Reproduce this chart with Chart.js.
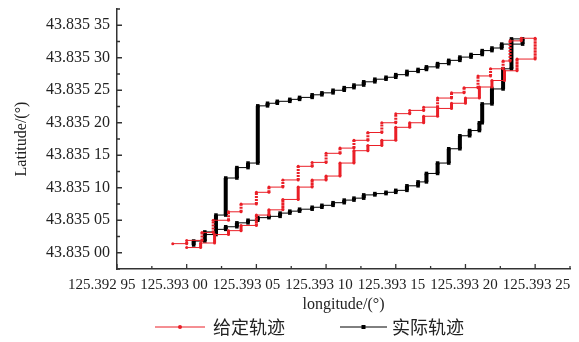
<!DOCTYPE html>
<html>
<head>
<meta charset="utf-8">
<script src="https://cdn.jsdelivr.net/npm/chart.js@4.4.1/dist/chart.umd.min.js"></script>
<style>html,body{margin:0;padding:0;background:#fff}</style>
</head>
<body>
<canvas id="c" width="579" height="342"></canvas>
<script>
// given trajectory (red): up the upper staircase, round the top-right box, back down the lower one
const givenLon = [
  125.39299, 125.393, 125.393, 125.393011, 125.393011, 125.393019, 125.393019, 125.39303, 125.39303, 125.393039,
  125.393039, 125.39305, 125.39305, 125.393059, 125.393059, 125.393069, 125.393069, 125.39308, 125.39308, 125.39309,
  125.39309, 125.3931, 125.3931, 125.39311, 125.39311, 125.39312, 125.39312, 125.39313, 125.39313, 125.39314,
  125.39314, 125.39315, 125.39315, 125.39316, 125.39316, 125.39317, 125.39317, 125.39318, 125.39318, 125.39319,
  125.39319, 125.393199, 125.393199, 125.393209, 125.393209, 125.393218, 125.393218, 125.393227, 125.393227, 125.393232,
  125.393232, 125.39324, 125.39324, 125.39325, 125.39325,
  125.393237, 125.393237, 125.393228, 125.393228, 125.393219, 125.393219, 125.39321, 125.39321, 125.3932, 125.3932,
  125.39319, 125.39319, 125.39318, 125.39318, 125.39317, 125.39317, 125.39316, 125.39316, 125.39315, 125.39315,
  125.39314, 125.39314, 125.39313, 125.39313, 125.39312, 125.39312, 125.39311, 125.39311, 125.3931, 125.3931,
  125.39309, 125.39309, 125.39308, 125.39308, 125.393069, 125.393069, 125.393059, 125.393059, 125.39305, 125.39305,
  125.393039, 125.393039, 125.39303, 125.39303, 125.39302, 125.39302, 125.39301, 125.39301, 125.393
];
const givenLat = [
  43.835014, 43.835014, 43.835019, 43.835019, 43.835031, 43.835031, 43.83505, 43.83505, 43.835063, 43.835063,
  43.835075, 43.835075, 43.835093, 43.835093, 43.835101, 43.835101, 43.835112, 43.835112, 43.835133, 43.835133,
  43.835139, 43.835139, 43.835153, 43.835153, 43.835161, 43.835161, 43.835173, 43.835173, 43.835185, 43.835185,
  43.8352, 43.8352, 43.835214, 43.835214, 43.835219, 43.835219, 43.835224, 43.835224, 43.835238, 43.835238,
  43.835246, 43.835246, 43.835254, 43.835254, 43.835272, 43.835272, 43.835283, 43.835283, 43.835295, 43.835295,
  43.835326, 43.835326, 43.83533, 43.83533, 43.835298,
  43.835298, 43.83528, 43.83528, 43.835265, 43.835265, 43.835255, 43.835255, 43.835238, 43.835238, 43.83523,
  43.83523, 43.835222, 43.835222, 43.83521, 43.83521, 43.8352, 43.8352, 43.835193, 43.835193, 43.835173,
  43.835173, 43.835165, 43.835165, 43.835157, 43.835157, 43.835138, 43.835138, 43.835118, 43.835118, 43.835112,
  43.835112, 43.835101, 43.835101, 43.835082, 43.835082, 43.835066, 43.835066, 43.835058, 43.835058, 43.835042,
  43.835042, 43.835034, 43.835034, 43.835028, 43.835028, 43.835015, 43.835015, 43.835008, 43.835008
];

// actual trajectory (black): lower path out, steep climb on the right, upper path back, drop at the left
const actualLon = [
  125.393005, 125.393005, 125.393013, 125.393013, 125.393021, 125.393021, 125.393028, 125.393028, 125.393036, 125.393036,
  125.393044, 125.393044, 125.393051, 125.393051, 125.393059, 125.393059, 125.393067, 125.393067, 125.393074, 125.393074,
  125.393081, 125.393081, 125.39309, 125.39309, 125.393097, 125.393097, 125.393105, 125.393105, 125.393113, 125.393113,
  125.39312, 125.39312, 125.393127, 125.393127, 125.393135, 125.393135, 125.393143, 125.393143, 125.39315, 125.39315,
  125.393158, 125.393158, 125.393166, 125.393166, 125.393172, 125.393172, 125.39318, 125.39318, 125.393188, 125.393188,
  125.393196, 125.393196, 125.393203, 125.393203, 125.39321, 125.39321, 125.393212, 125.393212, 125.393219, 125.393219,
  125.393227, 125.393227, 125.393233, 125.393233, 125.393241, 125.393241, 125.393226, 125.393226, 125.393219, 125.393219,
  125.393212, 125.393212, 125.393204, 125.393204, 125.393196, 125.393196, 125.393188, 125.393188, 125.39318, 125.39318,
  125.393172, 125.393172, 125.393166, 125.393166, 125.393158, 125.393158, 125.39315, 125.39315, 125.393143, 125.393143,
  125.393135, 125.393135, 125.393127, 125.393127, 125.39312, 125.39312, 125.393113, 125.393113, 125.393105, 125.393105,
  125.393097, 125.393097, 125.39309, 125.39309, 125.393081, 125.393081, 125.393074, 125.393074, 125.393065, 125.393065,
  125.393058, 125.393058, 125.393051, 125.393051, 125.393044, 125.393044, 125.393036, 125.393036, 125.393028, 125.393028,
  125.393021, 125.393021, 125.393013
];
const actualLat = [
  43.835012, 43.835018, 43.835018, 43.835032, 43.835032, 43.835036, 43.835036, 43.83504, 43.83504, 43.835046,
  43.835046, 43.83505, 43.83505, 43.835054, 43.835054, 43.835056, 43.835056, 43.835061, 43.835061, 43.835064,
  43.835064, 43.835067, 43.835067, 43.83507, 43.83507, 43.835073, 43.835073, 43.835077, 43.835077, 43.835081,
  43.835081, 43.835084, 43.835084, 43.835089, 43.835089, 43.835091, 43.835091, 43.835093, 43.835093, 43.835096,
  43.835096, 43.835103, 43.835103, 43.835109, 43.835109, 43.835122, 43.835122, 43.835138, 43.835138, 43.83516,
  43.83516, 43.83518, 43.83518, 43.835188, 43.835188, 43.8352, 43.8352, 43.835229, 43.835229, 43.835252,
  43.835252, 43.835283, 43.835283, 43.835329, 43.835329, 43.835321, 43.835321, 43.835315, 43.835315, 43.835311,
  43.835311, 43.835305, 43.835305, 43.835301, 43.835301, 43.835296, 43.835296, 43.835291, 43.835291, 43.835286,
  43.835286, 43.835282, 43.835282, 43.835279, 43.835279, 43.835274, 43.835274, 43.83527, 43.83527, 43.835267,
  43.835267, 43.835263, 43.835263, 43.835258, 43.835258, 43.835254, 43.835254, 43.83525, 43.83525, 43.835246,
  43.835246, 43.835243, 43.835243, 43.835239, 43.835239, 43.835236, 43.835236, 43.835233, 43.835233, 43.83523,
  43.83523, 43.835226, 43.835226, 43.835138, 43.835138, 43.835131, 43.835131, 43.835115, 43.835115, 43.835058,
  43.835058, 43.835028, 43.835028
];

const xTicks = [125.39295, 125.393, 125.39305, 125.3931, 125.39315, 125.3932, 125.39325];
const xTickLabels = ['125.392 95', '125.393 00', '125.393 05', '125.393 10', '125.393 15', '125.393 20', '125.393 25'];
const yTicks = [43.835, 43.83505, 43.8351, 43.83515, 43.8352, 43.83525, 43.8353, 43.83535];
const yTickLabels = ['43.835 00', '43.835 05', '43.835 10', '43.835 15', '43.835 20', '43.835 25', '43.835 30', '43.835 35'];

const RED = '#ea1f27', BLACK = '#000';
const pts = (lon, lat) => lon.map((x, i) => ({ x, y: lat[i] }));
const isVert = (c) => c.p0.parsed.x === c.p1.parsed.x;

Chart.defaults.font.family = "'Liberation Serif', 'Times New Roman', serif";
Chart.defaults.color = '#222';

// major + minor inward ticks (Chart.js has no minor ticks), plus the x labels,
// which in the source sit on a slightly wider pitch than their ticks
const axisTicks = {
  id: 'axisTicks',
  afterDraw(chart) {
    const { ctx, chartArea: a, scales: { x, y } } = chart;
    const minors = (s, vals) => {
      const h = (vals[1] - vals[0]) / 2, out = [];
      vals.forEach((v) => { [v - h, v + h].forEach((m) => { if (m >= s.min - 1e-9 && m <= s.max + 1e-9 && !out.some((o) => Math.abs(o - m) < 1e-9)) out.push(m); }); });
      return out;
    };
    ctx.save(); ctx.strokeStyle = '#333'; ctx.lineWidth = 1.3; ctx.beginPath();
    xTicks.forEach((v) => { const px = x.getPixelForValue(v); ctx.moveTo(px, a.bottom); ctx.lineTo(px, a.bottom - 5); });
    minors(x, xTicks).forEach((v) => { const px = x.getPixelForValue(v); ctx.moveTo(px, a.bottom); ctx.lineTo(px, a.bottom - 3); });
    yTicks.forEach((v) => { const py = y.getPixelForValue(v); ctx.moveTo(a.left, py); ctx.lineTo(a.left + 5, py); });
    minors(y, yTicks).forEach((v) => { const py = y.getPixelForValue(v); ctx.moveTo(a.left, py); ctx.lineTo(a.left + 3, py); });
    ctx.stroke();
    const mid = x.getPixelForValue(xTicks[3]);
    ctx.fillStyle = '#222'; ctx.font = "15px 'Liberation Serif'"; ctx.textAlign = 'center'; ctx.textBaseline = 'middle';
    xTicks.forEach((v, i) => { const px = x.getPixelForValue(v); ctx.fillText(xTickLabels[i], px + (px - mid) * 0.04 - 7, a.bottom + 16); });
    ctx.restore();
  },
};

// legend row under the axis title: line + marker + label
const legendRow = {
  id: 'legendRow',
  afterDraw(chart) {
    const { ctx } = chart, cy = 327;
    const spots = [{ x0: 155, x1: 205, tx: 213 }, { x0: 340, x1: 387, tx: 392 }];
    ctx.save();
    chart.data.datasets.forEach((ds, i) => {
      const s = spots[i], mx = (s.x0 + s.x1) / 2;
      ctx.strokeStyle = ds.borderColor; ctx.lineWidth = 1;
      ctx.beginPath(); ctx.moveTo(s.x0, cy); ctx.lineTo(s.x1, cy); ctx.stroke();
      ctx.fillStyle = ds.backgroundColor;
      if (ds.pointStyle === 'rect') ctx.fillRect(mx - 2, cy - 2, 4, 4);
      else { ctx.beginPath(); ctx.arc(mx, cy, 2, 0, Math.PI * 2); ctx.fill(); }
      ctx.fillStyle = '#222'; ctx.font = "18px 'Noto Sans CJK SC'"; ctx.textBaseline = 'middle';
      ctx.fillText(ds.label, s.tx, cy);
    });
    ctx.restore();
  },
};

new Chart(document.getElementById('c'), {
  type: 'scatter',
  data: {
    datasets: [
      {
        label: '给定轨迹', data: pts(givenLon, givenLat), showLine: true,
        borderColor: RED, backgroundColor: RED, borderWidth: 1,
        pointStyle: 'circle', pointRadius: 1.5, pointBorderWidth: 0,
        segment: { borderWidth: (c) => (isVert(c) ? 3 : 1), borderDash: (c) => (isVert(c) ? [2, 1] : []) },
      },
      {
        label: '实际轨迹', data: pts(actualLon, actualLat), showLine: true,
        borderColor: BLACK, backgroundColor: BLACK, borderWidth: 1,
        pointStyle: 'rect', pointRadius: 2.5, pointBorderWidth: 0,
        segment: { borderWidth: (c) => (isVert(c) ? 4 : 1) },
      },
    ],
  },
  options: {
    responsive: false, animation: false, devicePixelRatio: 1,
    layout: { padding: { top: 9, right: 9, bottom: 24, left: 0 } },
    plugins: { legend: { display: false }, tooltip: { enabled: false } },
    scales: {
      x: {
        type: 'linear', min: 125.39295, max: 125.393275,
        afterFit: (s) => { s.height = 49; s.paddingLeft = 0; s.paddingRight = 0; },
        afterBuildTicks: (s) => { s.ticks = xTicks.map((v) => ({ value: v })); },
        ticks: { display: false },
        grid: { display: false, drawTicks: false },
        border: { display: true, color: '#333', width: 1.5 },
        title: { display: true, text: 'longitude/(°)', font: { size: 16 }, color: '#222', padding: { top: 0, bottom: 4 } },
      },
      y: {
        type: 'linear', min: 43.834975, max: 43.835375,
        afterFit: (s) => { s.width = 117; s.paddingTop = 0; s.paddingBottom = 0; },
        afterBuildTicks: (s) => { s.ticks = yTicks.map((v) => ({ value: v })); },
        ticks: { callback: (v, i) => yTickLabels[i], autoSkip: false, padding: 7, font: { size: 16 }, color: '#222' },
        grid: { display: false, drawTicks: false },
        border: { display: true, color: '#333', width: 1.5 },
        title: { display: true, text: 'Latitude/(°)', font: { size: 16 }, color: '#222', padding: { top: 12, bottom: 0 } },
      },
    },
  },
  plugins: [axisTicks, legendRow],
});
</script>
</body>
</html>
